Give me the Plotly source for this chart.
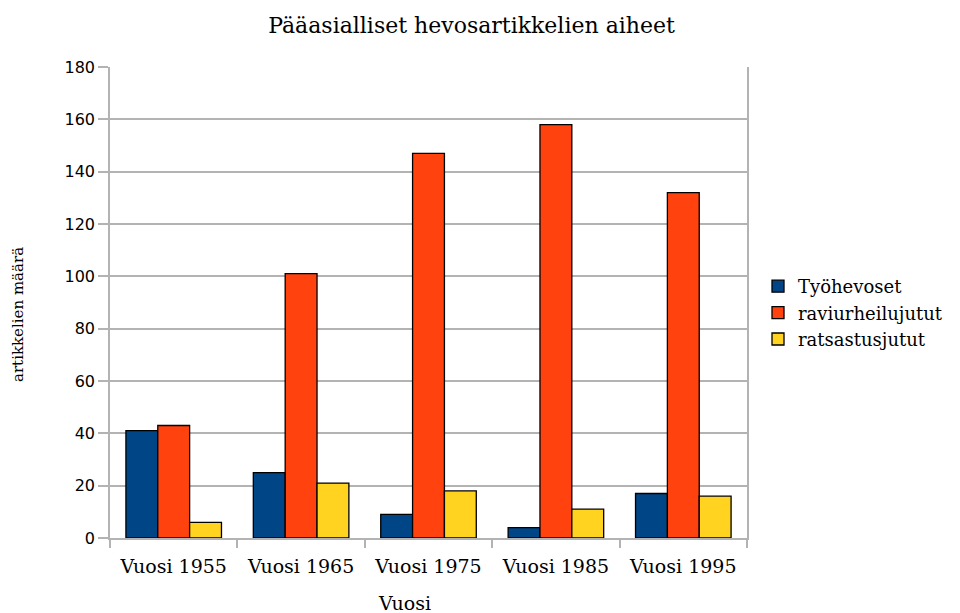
import plotly.graph_objects as go

categories = ["Vuosi 1955", "Vuosi 1965", "Vuosi 1975", "Vuosi 1985", "Vuosi 1995"]
tyohevoset = [41, 25, 9, 4, 17]
raviurheilujutut = [43, 101, 147, 158, 132]
ratsastusjutut = [6, 21, 18, 11, 16]
y_ticks = [0, 20, 40, 60, 80, 100, 120, 140, 160, 180]

series = [
    ("Työhevoset", tyohevoset, "#004586"),
    ("raviurheilujutut", raviurheilujutut, "#ff420e"),
    ("ratsastusjutut", ratsastusjutut, "#ffd320"),
]

serif = "DejaVu Serif"
sans = "DejaVu Sans"

# page body has an 8px margin: figure origin is at (8, 8)
OFF = 8
W, H = 960 - OFF, 613 - OFF
PL, PR, PT, PB = 110, 747, 67, 538  # plot area in window pixels
pw, ph = PR - PL, PB - PT


def px(xw):
    return (xw - PL) / pw


def py(yw):
    return (PB - yw) / ph


fig = go.Figure()
for name, vals, col in series:
    fig.add_trace(go.Bar(
        x=categories, y=vals, name=name,
        marker=dict(color=col, line=dict(color="#000000", width=1.3)),
    ))

fig.update_layout(
    width=W, height=H,
    margin=dict(l=PL - OFF, r=W - (PR - OFF), t=PT - OFF, b=H - (PB - OFF),
                autoexpand=False),
    paper_bgcolor="white", plot_bgcolor="white",
    barmode="group", bargap=0.25, bargroupgap=0,
    showlegend=True,
    legend=dict(
        x=px(758), y=py(268), xanchor="left", yanchor="top",
        font=dict(family=serif, size=18, color="#000000"),
        itemwidth=30, tracegroupgap=3,
    ),
    title=dict(
        text="Pääasialliset hevosartikkelien aiheet",
        font=dict(family=serif, size=22, color="#000000"),
        x=(471.5 - OFF) / W, xanchor="center", xref="container",
        y=1 - (25 - OFF) / H, yanchor="middle", yref="container",
    ),
    xaxis=dict(
        type="category",
        tickson="boundaries",
        ticks="outside", ticklen=8, tickcolor="#b3b3b3", tickwidth=1.5,
        showline=True, linecolor="#b3b3b3", linewidth=1.5,
        showgrid=False,
        ticklabelstandoff=10,
        tickfont=dict(family=serif, size=19, color="#000000"),
    ),
    yaxis=dict(
        range=[0, 180], tickvals=y_ticks,
        ticks="outside", ticklen=10, tickcolor="#b3b3b3", tickwidth=1.5,
        showline=True, linecolor="#b3b3b3", linewidth=1.5, mirror=True,
        showgrid=True, gridcolor="#b3b3b3", gridwidth=1.5,
        zeroline=False,
        tickfont=dict(family=sans, size=16, color="#000000"),
    ),
    annotations=[
        dict(text="artikkelien määrä", xref="paper", yref="paper",
             x=px(18), y=py(315), xanchor="center", yanchor="middle",
             textangle=-90, showarrow=False,
             font=dict(family=serif, size=15, color="#000000")),
        dict(text="Vuosi", xref="paper", yref="paper",
             x=px(404), y=py(603), xanchor="center", yanchor="middle",
             showarrow=False,
             font=dict(family=serif, size=19, color="#000000")),
    ],
)

fig.write_html("out.html")
